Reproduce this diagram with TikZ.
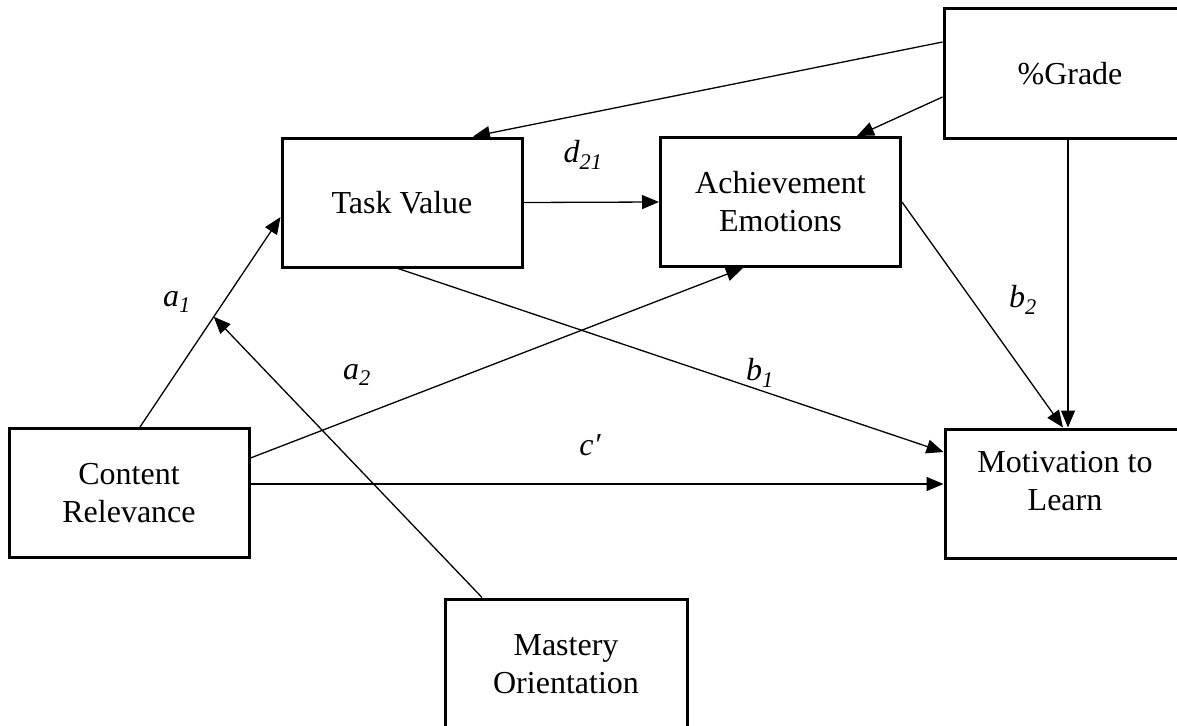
\documentclass[tikz,border=0pt]{standalone}
\usepackage{fontspec}
\setmainfont{Liberation Serif}
\usetikzlibrary{arrows.meta,calc}

\tikzset{
  box/.style={draw, line width=3pt, minimum width=240pt, minimum height=129pt,
    align=center, inner sep=0pt, font=\fontsize{32}{38}\selectfont},
  arr/.style={line width=1.3pt, -{Triangle[length=17pt,width=14pt]}},
  lbl/.style={font=\fontsize{32}{38}\selectfont\itshape, inner sep=0pt}
}

\begin{document}
\begin{tikzpicture}[x=1pt, y=-1pt]
  \useasboundingbox (0, 0) rectangle (1177, 725);

  \node[box] (cr) at (129, 493) {Content\\Relevance};
  \node[box] (tv) at (402, 202.5) {Task Value};
  \node[box] (ae) at (780.5, 202) {Achievement\\Emotions};
  \node[box, minimum width=252pt] (gr) at (1070, 73.5) {\%Grade};
  \node[box] (ml) at (1065, 493.5) {Motivation to\\Learn\\[-12pt]\mbox{}};
  \node[box, minimum width=242pt, minimum height=130pt] (mo) at (566, 664) {Mastery\\Orientation};

  % a paths
  \coordinate (a1s) at ([xshift=11pt]cr.north);
  \coordinate (a1e) at ([yshift=-14.5pt]tv.west);
  \draw[arr] (a1s) -- (a1e);
  \draw[arr] ([yshift=35pt]cr.east) -- ([xshift=-37.5pt]ae.south);
  \coordinate (mt) at ($(a1s)!0.525!(a1e)$);
  \draw[arr] ([xshift=-84pt]mo.north) -- (mt);

  % direct path
  \coordinate (cs) at ([yshift=9pt]cr.east);
  \draw[arr] (cs) -- (cs -| ml.west);

  % d and b paths
  \draw[arr] (tv.east) -- (ae.west);
  \draw[arr] ([xshift=-4pt]tv.south) -- ([yshift=41.5pt]ml.west);
  \draw[arr] (ae.east) -- ([xshift=-2pt]ml.north);

  % %Grade
  \draw[arr] ([yshift=31.5pt]gr.west) -- ([xshift=71pt]tv.north);
  \draw[arr] ([yshift=-23.5pt]gr.west) -- ([xshift=76.5pt]ae.north);
  \coordinate (gs) at ([xshift=-2pt]gr.south);
  \draw[arr] (gs) -- (gs |- ml.north);

  % labels
  \node[lbl] (la1) at (177, 302) {a\textsubscript{1}};
  \node[lbl] (la2) at (357, 375) {a\textsubscript{2}};
  \node[lbl] (ld) at (583, 155) {d\textsubscript{21}};
  \node[lbl] (lb1) at (760, 373) {b\textsubscript{1}};
  \node[lbl] (lc) at (590, 445) {c′};
  \node[lbl] (lb2) at (1023, 300) {b\textsubscript{2}};
\end{tikzpicture}
\end{document}
